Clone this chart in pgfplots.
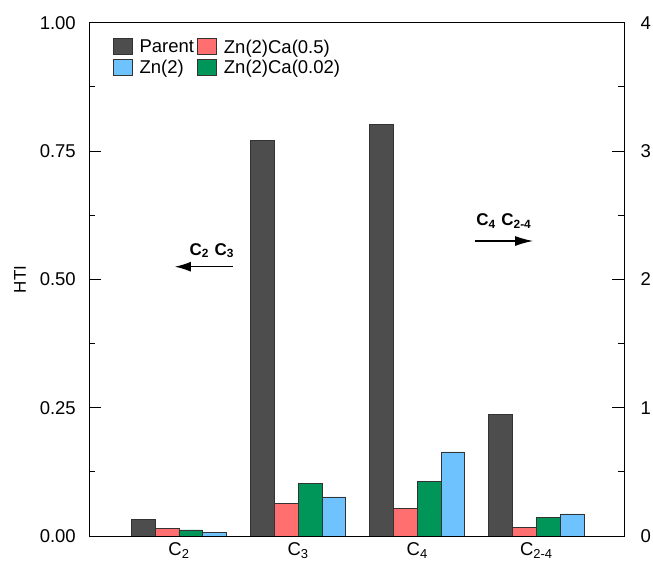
\documentclass[border=0pt]{standalone}
\usepackage{fontspec}
\setmainfont{Liberation Sans}
\usepackage{pgfplots}
\pgfplotsset{compat=1.18}
\usetikzlibrary{arrows.meta}

\definecolor{cparent}{HTML}{4D4D4D}
\definecolor{cred}{HTML}{FF6F6F}
\definecolor{cgreen}{HTML}{00965A}
\definecolor{cblue}{HTML}{6EC3FF}
\definecolor{cedge}{HTML}{333333}

\pgfplotsset{
  sq legend/.style={legend image code/.code={\draw[##1,line width=0.8pt,draw=cedge] (0pt,-7pt) rectangle (19pt,9pt);}},
  common/.style={
    scale only axis, width=534.7pt, height=513.3pt,
    xmin=-0.753, xmax=3.736,
    ybar, bar width=0.2,
    axis line style={line width=0.9pt, black},
    tick align=inside,
    major tick length=12pt, minor tick length=6pt,
    every tick/.style={line width=0.9pt, black},
    minor y tick num=1,
    tick label style={font=\fontsize{18.5}{22}\selectfont},
    /pgf/number format/assume math mode=true,
    xtick={0,1,2,3},
    major x tick style={draw=none},
    every axis plot/.append style={draw=cedge, line width=0.8pt},
  },
}

\begin{document}
\begin{tikzpicture}
\begin{axis}[common,
  ymin=0, ymax=1,
  ytick={0,0.25,0.5,0.75,1},
  ytick pos=left,
  xticklabels={C\textsubscript{2},C\textsubscript{3},C\textsubscript{4},C\textsubscript{2-4}},
  xticklabel style={yshift=-3pt},
  yticklabel style={/pgf/number format/.cd,fixed,fixed zerofill,precision=2,/tikz/.cd,xshift=-10pt},
  ylabel={HTI},
  ylabel style={at={(axis description cs:-0.1296,0.5)}, anchor=center, font=\fontsize{17}{20}\selectfont},
  legend columns=2,
  legend cell align=left,
  legend style={draw=none, fill=none, at={(0.038,0.975)}, anchor=north west,
    font=\fontsize{18.5}{22}\selectfont,
    nodes={inner xsep=3pt, inner ysep=1pt},
    row sep=3pt,
    /tikz/every odd column/.append style={column sep=4pt}},
]
\addplot[fill=cparent, bar shift=-0.3, sq legend] coordinates {(0,0.033) (1,0.770)};
\addplot[fill=cred, bar shift=-0.1, sq legend] coordinates {(0,0.015) (1,0.064)};
\addplot[fill=cblue, bar shift=0.3, sq legend] coordinates {(0,0.0064) (1,0.076)};
\addplot[fill=cgreen, bar shift=0.1, sq legend] coordinates {(0,0.0117) (1,0.103)};
\legend{Parent, Zn(2)Ca(0.5), Zn(2), Zn(2)Ca(0.02)}
\draw[line width=1.1pt, -{Latex[length=16pt,width=10pt]}] (axis cs:0.451,0.5246) -- (axis cs:-0.034,0.5246);
\node[anchor=base, font=\fontsize{17}{20}\selectfont\bfseries] at (axis cs:0.275,0.5474) {C\textsubscript{2}\,\,C\textsubscript{3}};
\draw[line width=1.1pt, -{Latex[length=18pt,width=10pt]}] (axis cs:2.485,0.5747) -- (axis cs:2.972,0.5747);
\node[anchor=base, font=\fontsize{17}{20}\selectfont\bfseries] at (axis cs:2.727,0.604) {C\textsubscript{4}\,\,C\textsubscript{2-4}};
\end{axis}
\begin{axis}[common,
  ymin=0, ymax=4,
  ytick={0,1,2,3,4},
  ytick pos=right,
  yticklabel pos=right,
  xticklabels={},
  yticklabel style={xshift=13pt},
]
\addplot[fill=cparent, bar shift=-0.3] coordinates {(2,3.21) (3,0.95)};
\addplot[fill=cred, bar shift=-0.1] coordinates {(2,0.218) (3,0.07)};
\addplot[fill=cgreen, bar shift=0.1] coordinates {(2,0.426) (3,0.148)};
\addplot[fill=cblue, bar shift=0.3] coordinates {(2,0.655) (3,0.172)};
\end{axis}
\pgfresetboundingbox
\useasboundingbox (-89.3pt,-26pt) rectangle (563.7pt,536pt);
\end{tikzpicture}
\end{document}
